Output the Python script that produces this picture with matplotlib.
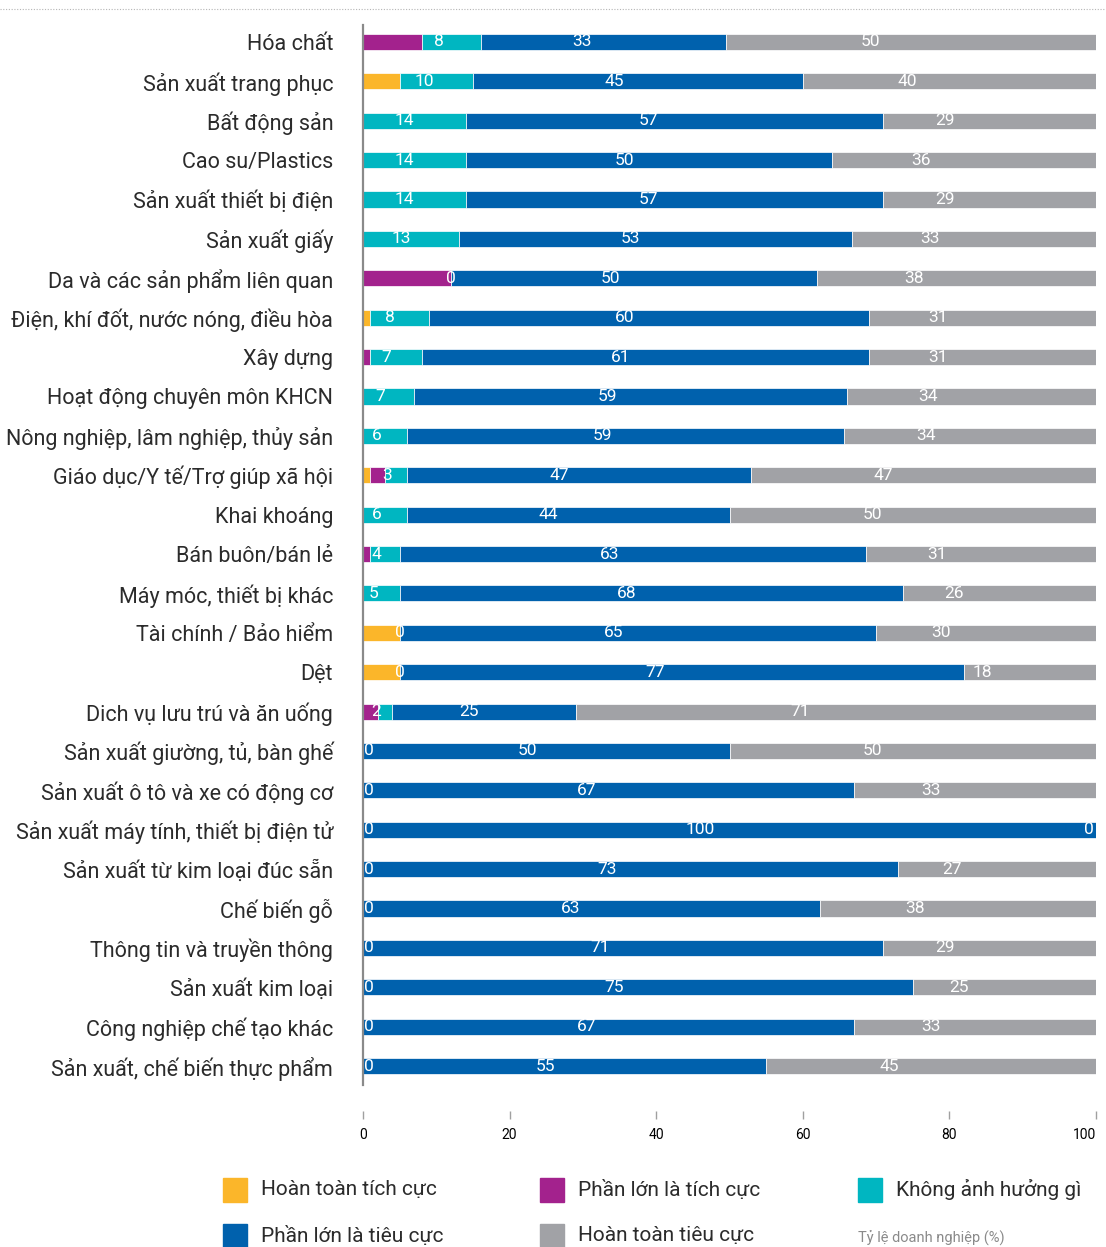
import matplotlib
matplotlib.use("Agg")
import matplotlib.pyplot as plt
from matplotlib.patches import Rectangle
from matplotlib.lines import Line2D
import numpy as np

plt.rcParams['font.family'] = ['Roboto', 'DejaVu Sans']

categories = [
    "Hóa chất", "Sản xuất trang phục", "Bất động sản", "Cao su/Plastics",
    "Sản xuất thiết bị điện", "Sản xuất giấy", "Da và các sản phẩm liên quan",
    "Điện, khí đốt, nước nóng, điều hòa", "Xây dựng", "Hoạt động chuyên môn KHCN",
    "Nông nghiệp, lâm nghiệp, thủy sản", "Giáo dục/Y tế/Trợ giúp xã hội",
    "Khai khoáng", "Bán buôn/bán lẻ", "Máy móc, thiết bị khác",
    "Tài chính / Bảo hiểm", "Dệt", "Dich vụ lưu trú và ăn uống",
    "Sản xuất giường, tủ, bàn ghế", "Sản xuất ô tô và xe có động cơ",
    "Sản xuất máy tính, thiết bị điện tử", "Sản xuất từ kim loại đúc sẵn",
    "Chế biến gỗ", "Thông tin và truyền thông", "Sản xuất kim loại",
    "Công nghiệp chế tạo khác", "Sản xuất, chế biến thực phẩm",
]

series_names = ["Hoàn toàn tích cực", "Phần lớn là tích cực", "Không ảnh hưởng gì",
                "Phần lớn là tiêu cực", "Hoàn toàn tiêu cực"]
series_colors = ["#FBB62A", "#A3228D", "#00B6C1", "#0061AD", "#A1A2A6"]

fully_positive = [0, 5, 0, 0, 0, 0, 0, 1, 0, 0, 0, 1, 0, 0, 0, 5, 5, 0,
                  0, 0, 0, 0, 0, 0, 0, 0, 0]
mostly_positive = [8, 0, 0, 0, 0, 0, 12, 0, 1, 0, 0, 2, 0, 1, 0, 0, 0, 2,
                   0, 0, 0, 0, 0, 0, 0, 0, 0]
no_effect = [8, 10, 14, 14, 14, 13, 0, 8, 7, 7, 6, 3, 6, 4, 5, 0, 0, 2,
             0, 0, 0, 0, 0, 0, 0, 0, 0]
mostly_negative = [33, 45, 57, 50, 57, 53, 50, 60, 61, 59, 59, 47, 44, 63, 68, 65, 77, 25,
                   50, 67, 100, 73, 63, 71, 75, 67, 55]
fully_negative = [50, 40, 29, 36, 29, 33, 38, 31, 31, 34, 34, 47, 50, 31, 26, 30, 18, 71,
                  50, 33, 0, 27, 38, 29, 25, 33, 45]

x_ticks = [0, 20, 40, 60, 80, 100]
x_note = "Tỷ lệ doanh nghiệp (%)"

values = np.array([fully_positive, mostly_positive, no_effect,
                   mostly_negative, fully_negative], dtype=float)
# each bar is drawn as a share of its row total so every bar spans the full width
shares = values / values.sum(axis=0) * 100
labelled = [2, 3, 4]   # series whose values are printed inside the bars

W, H = 1106, 1247
fig = plt.figure(figsize=(W / 100, H / 100), dpi=100)
ax = fig.add_axes([363 / W, (H - 1085) / H, (1096 - 363) / W, (1085 - 25) / H])

y = np.arange(len(categories))
left = np.zeros(len(categories))
for s in range(len(series_names)):
    ax.barh(y, shares[s], left=left, height=0.41, color=series_colors[s],
            edgecolor="white", linewidth=0.5, zorder=2)
    if s in labelled:
        for i in y:
            w = shares[s, i]
            if values[s, i] == 0:
                pos = min(max(left[i], 0.8), 99.0)
            else:
                pos = 0.94 * (left[i] + w / 2) - 1
            ax.text(pos, i, f"{int(values[s, i])}", ha="center", va="center",
                    color="white", fontsize=12.5, zorder=3)
    left += shares[s]

ax.set_xlim(0, 100)
ax.set_ylim(len(categories) - 1 + 0.48, -0.43)
ax.set_yticks(y)
ax.set_yticklabels(categories, fontsize=15.5, color="#2b2b2b")
ax.tick_params(axis="y", length=0, pad=21.5)

ax.set_xticks(x_ticks)
ax.set_xticklabels([str(t) for t in x_ticks], fontsize=11.5, color="#2b2b2b")
ax.tick_params(axis="x", length=6, width=1, color="#a0a0a0", pad=6)
ax.spines["bottom"].set_position(("outward", 19))
ax.spines["bottom"].set_visible(False)
for side in ("top", "right"):
    ax.spines[side].set_visible(False)
ax.spines["left"].set_color("#8a8a8a")
ax.spines["left"].set_linewidth(1.6)
ax.spines["left"].set_zorder(4)

# dotted rule along the top edge
fig.add_artist(Line2D([0, 1], [1 - 9 / H, 1 - 9 / H], transform=fig.transFigure,
                      color="#b5b5b5", linestyle=(0, (1, 1.5)), linewidth=0.8))

# legend laid out on a 3-column grid
col_x = [223, 540, 858]
row_y = [1190, 1236]
for k, (name, color) in enumerate(zip(series_names, series_colors)):
    r, c = divmod(k, 3)
    x0, yc = col_x[c], row_y[r]
    fig.add_artist(Rectangle((x0 / W, 1 - (yc + 12) / H), 24 / W, 24 / H,
                             transform=fig.transFigure, color=color))
    fig.text((x0 + 38) / W, 1 - yc / H, name, fontsize=15, color="#2b2b2b",
             ha="left", va="center")
fig.text(858 / W, 1 - 1238 / H, x_note, fontsize=10.5, color="#8a8a8a",
         ha="left", va="center")

# keep the last tick label inside the figure
fig.canvas.draw()
ax.xaxis.get_major_ticks()[-1].label1.set_horizontalalignment("right")
ax.xaxis.get_major_ticks()[-1].label1.set_x(100.8)

fig.savefig("out.png", dpi=100)
